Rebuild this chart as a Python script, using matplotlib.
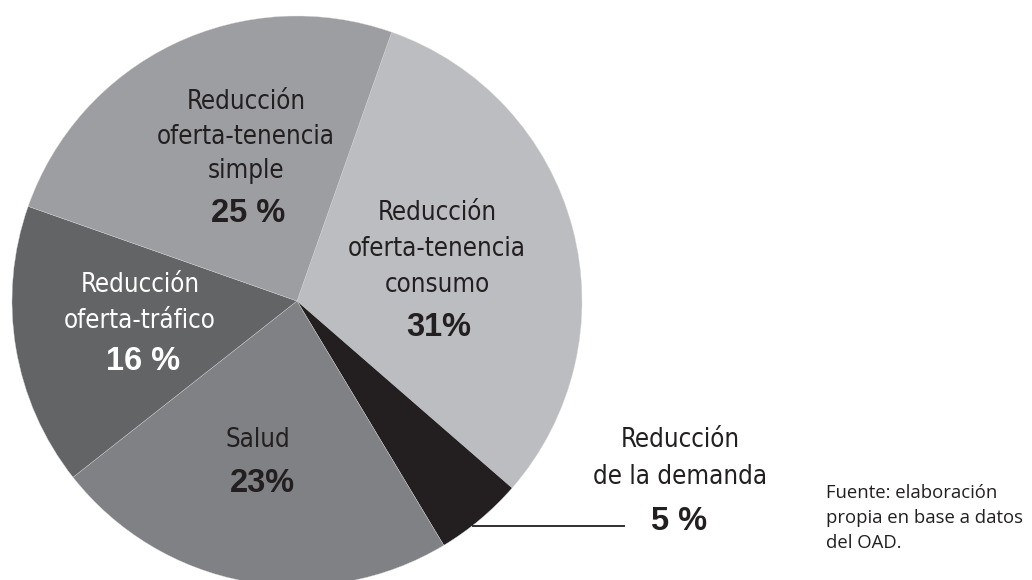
import matplotlib
matplotlib.use("Agg")
import matplotlib.pyplot as plt
from matplotlib import font_manager as fm

# ---- data (clockwise from the top-right slice) ----
categories = ["Reducción\noferta-tenencia\nconsumo",
              "Reducción\nde la demanda",
              "Salud",
              "Reducción\noferta-tráfico",
              "Reducción\noferta-tenencia\nsimple"]
shares = [31, 5, 23, 16, 25]
pct_labels = ["31%", "5 %", "23%", "16 %", "25 %"]
source_note = "Fuente: elaboración\npropia en base a datos\ndel OAD."

# ---- styling ----
slice_colors = ["#bcbdc0", "#231f20", "#808184", "#636466", "#9d9ea1"]
text_colors = ["#231f20", "#231f20", "#231f20", "#ffffff", "#231f20"]
DARK = "#231f20"

names = {f.name for f in fm.fontManager.ttflist}
narrow_ok = "Liberation Sans Narrow" in names
dv_cond = any(f.name == "DejaVu Sans" and "Condensed" in f.fname
              for f in fm.fontManager.ttflist)
if narrow_ok:
    LBL = dict(family=["Liberation Sans Narrow", "DejaVu Sans"], fontsize=20)
elif dv_cond:
    LBL = dict(family=["DejaVu Sans"], fontstretch="condensed", fontsize=18.5)
else:
    LBL = dict(family=["Roboto", "DejaVu Sans"], fontsize=18, fontweight="light")
PCT = dict(family=["Liberation Sans", "DejaVu Sans"], fontsize=23.5, fontweight="bold")
NOTE = dict(family=["Open Sans", "Noto Sans", "DejaVu Sans"], fontsize=13.3)

W, H = 1032, 580
fig = plt.figure(figsize=(W / 100, H / 100), dpi=100)
ax = fig.add_axes([0, 0, 1, 1])

def Y(py):
    return H - py

cx, cy, r = 297, Y(301), 285
wedges, _ = ax.pie(shares, colors=slice_colors, startangle=70.6,
                   counterclock=False, center=(cx, cy), radius=r,
                   wedgeprops=dict(edgecolor="#d8d8d8", linewidth=0.25),
                   frame=False)
ax.set_xlim(0, W)
ax.set_ylim(0, H)
ax.set_aspect("auto")
ax.axis("off")

# label layout (pixel centres): list of line centres + percentage centre
layout = [
    (437, [213, 249, 285], (439, 328)),
    (680, [440, 477], (679, 521)),
    (258, [440], (262, 484)),
    (140, [285, 321], (143, 362)),
    (246, [102, 137, 171], (248, 213)),
]
for cat, pct, col, (x, ys, (px, py)) in zip(categories, pct_labels, text_colors, layout):
    for line, yy in zip(cat.split("\n"), ys):
        ax.text(x, Y(yy), line, ha="center", va="center", color=col, **LBL)
    ax.text(px, Y(py), pct, ha="center", va="center", color=col, **PCT)

# leader line for the small slice
ax.plot([472, 625], [Y(526), Y(526)], color=DARK, lw=1.3, solid_capstyle="butt")

# source note
ax.text(826, Y(518), source_note, ha="left", va="center", color=DARK,
        linespacing=1.5, **NOTE)

fig.savefig("out.png", dpi=100)
